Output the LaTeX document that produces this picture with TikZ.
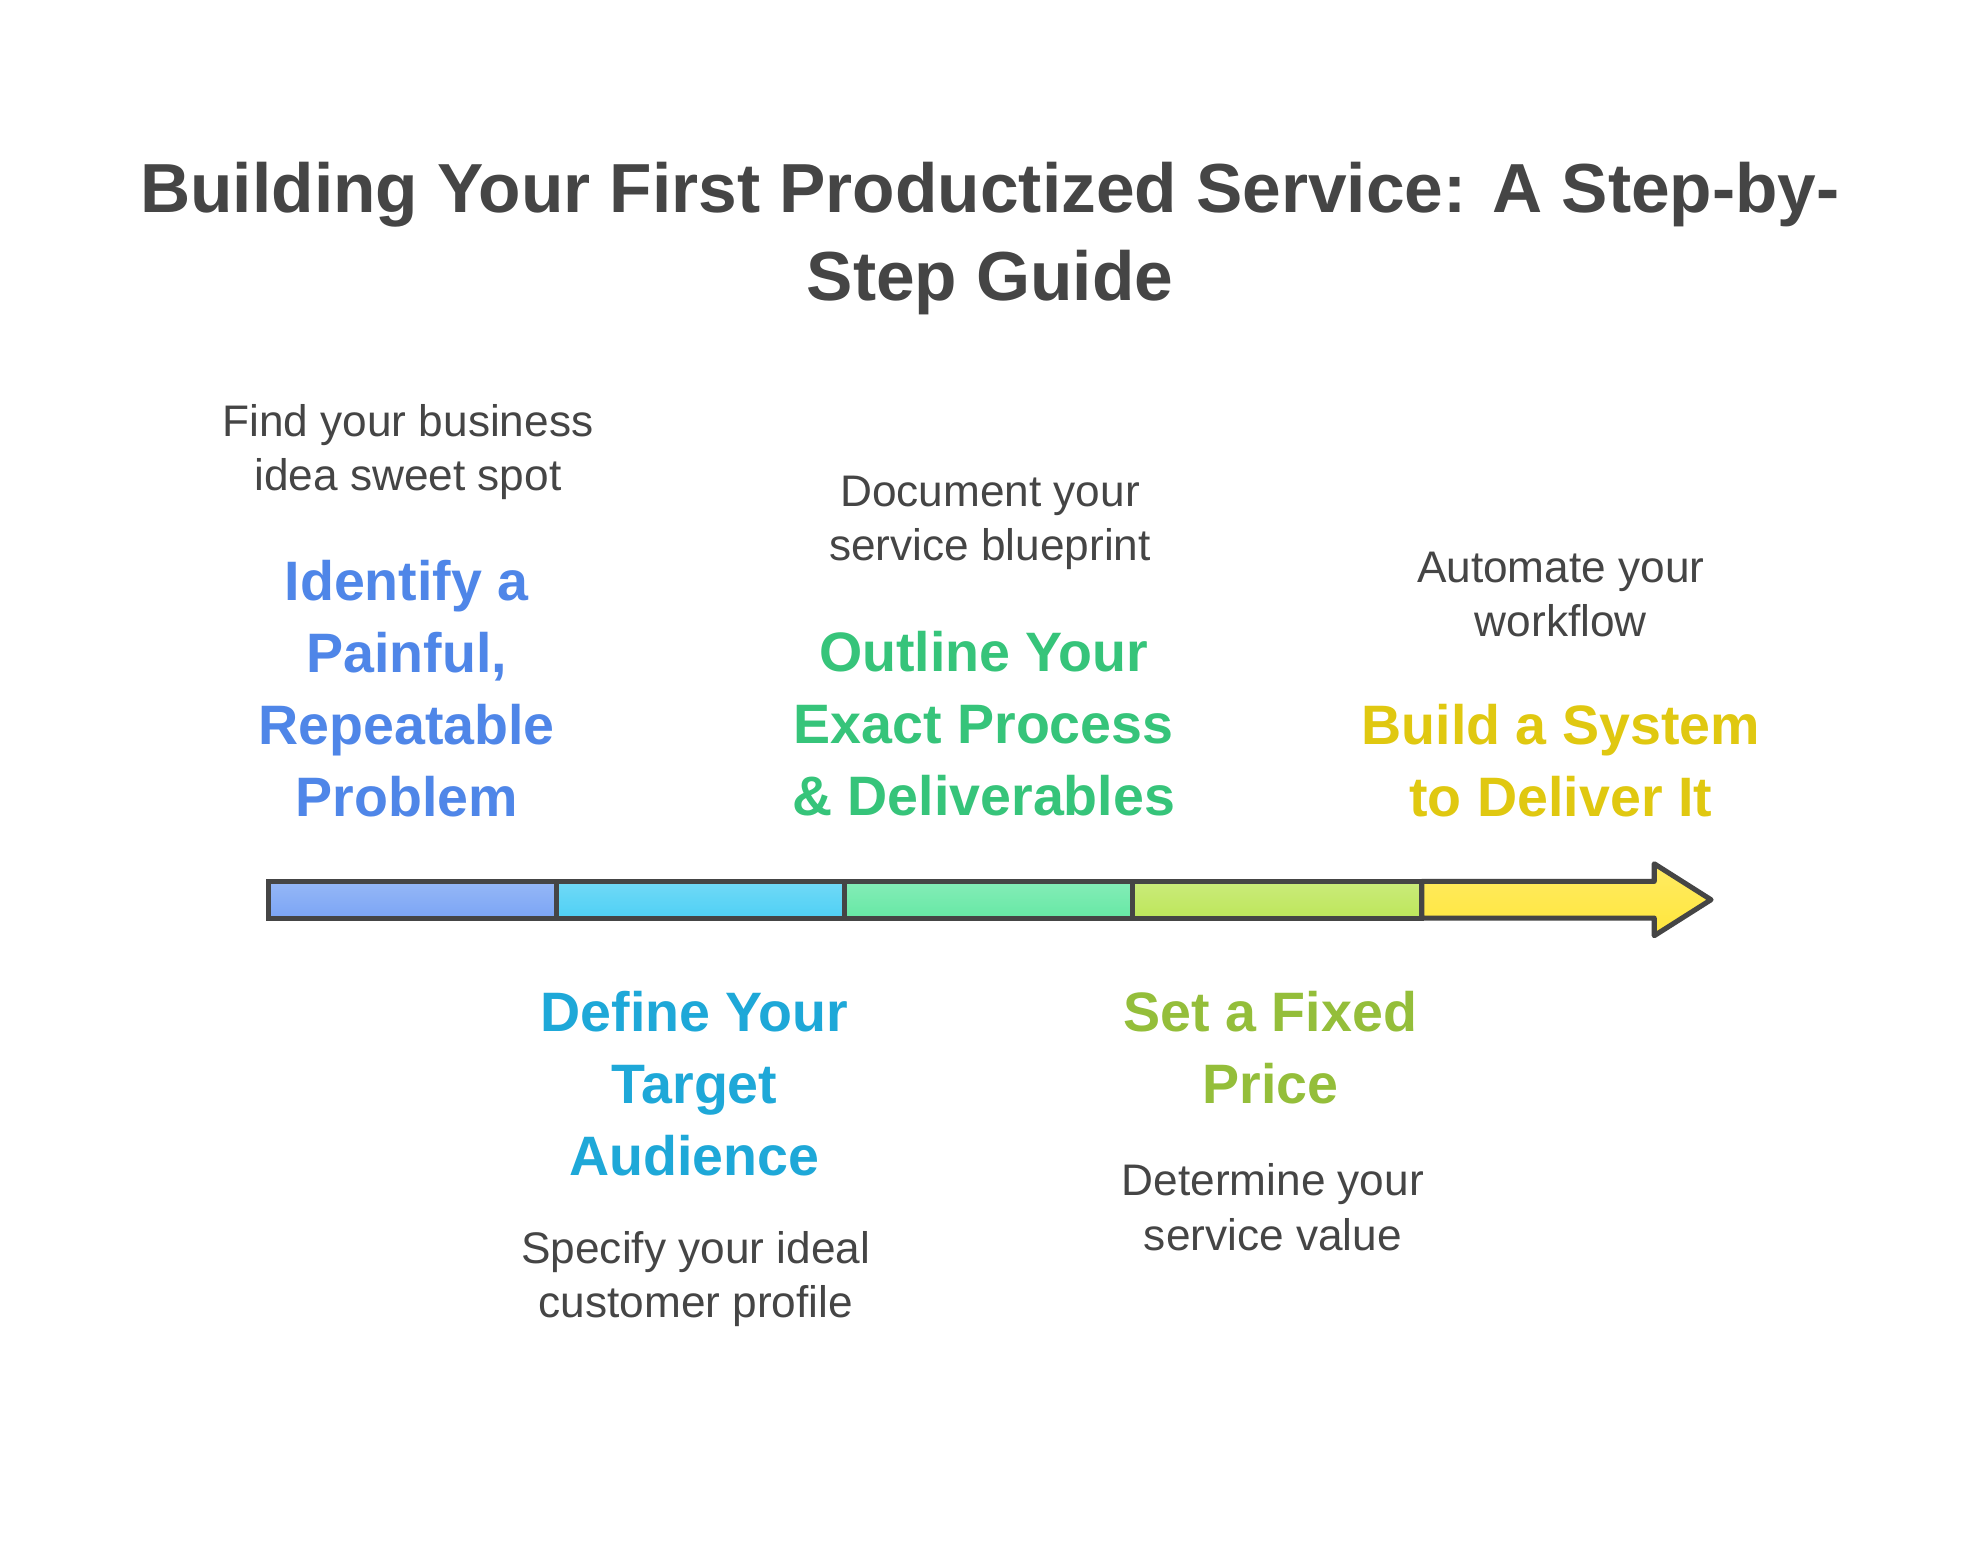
\documentclass[tikz,border=0pt]{standalone}
\usepackage{fontspec}
\setmainfont{Liberation Sans}
\definecolor{tx}{HTML}{454545}
\definecolor{cA}{HTML}{4F86E8}
\definecolor{cB}{HTML}{1EA8D8}
\definecolor{cC}{HTML}{36C47A}
\definecolor{cD}{HTML}{94BE3A}
\definecolor{cE}{HTML}{E0C810}
\definecolor{fA}{HTML}{7BA5F5}
\definecolor{fB}{HTML}{4ED0F5}
\definecolor{fC}{HTML}{66E8A5}
\definecolor{fD}{HTML}{BDE65A}
\definecolor{fE}{HTML}{FFE63C}
\begin{document}
\begin{tikzpicture}[x=0.5pt,y=-0.5pt,
 head/.style={font=\fontsize{22}{28.5}\selectfont\bfseries,align=center},
 desc/.style={font=\fontsize{17.5}{21.5}\selectfont,text=tx,align=center},
 seg/.style={draw=tx,line width=2pt}]
\useasboundingbox (0,0) rectangle (1568,1226);
\fill[white] (0,0) rectangle (1568,1226);
\node[font=\fontsize{27.5}{35}\selectfont\bfseries,text=tx,align=center] (title) at (784,189) {Building Your First Productized Service: A Step-by-\\Step Guide};
% bar
\path[seg,top color=fA!80!white,bottom color=fA] (213,698) rectangle (441,727);
\path[seg,top color=fB!80!white,bottom color=fB] (441,698) rectangle (669,727);
\path[seg,top color=fC!80!white,bottom color=fC] (669,698) rectangle (897,727);
\path[seg,top color=fD!80!white,bottom color=fD] (897,698) rectangle (1126,727);
\path[seg,top color=fE!80!white,bottom color=fE,line join=round] (1126,698) -- (1310,698) -- (1310,684) -- (1355,712.5) -- (1310,741) -- (1310,727) -- (1126,727) -- cycle;
% texts
\node[desc] (d1) at (323,358) {Find your business\\idea sweet spot};
\node[head,text=cA] (h1) at (322,545) {Identify a\\Painful,\\Repeatable\\Problem};
\node[desc] (d3) at (784,414) {Document your\\service blueprint};
\node[head,text=cC] (h3) at (779,573) {Outline Your\\Exact Process\\\& Deliverables};
\node[desc] (d5) at (1236,471) {Automate your\\workflow};
\node[head,text=cE] (h5) at (1236,602) {Build a System\\to Deliver It};
\node[head,text=cB] (h2) at (550,858) {Define Your\\Target\\Audience};
\node[desc] (d2) at (551,1013) {Specify your ideal\\customer profile};
\node[head,text=cD] (h4) at (1006,830) {Set a Fixed\\Price};
\node[desc] (d4) at (1008,956) {Determine your\\service value};
\end{tikzpicture}
\end{document}
